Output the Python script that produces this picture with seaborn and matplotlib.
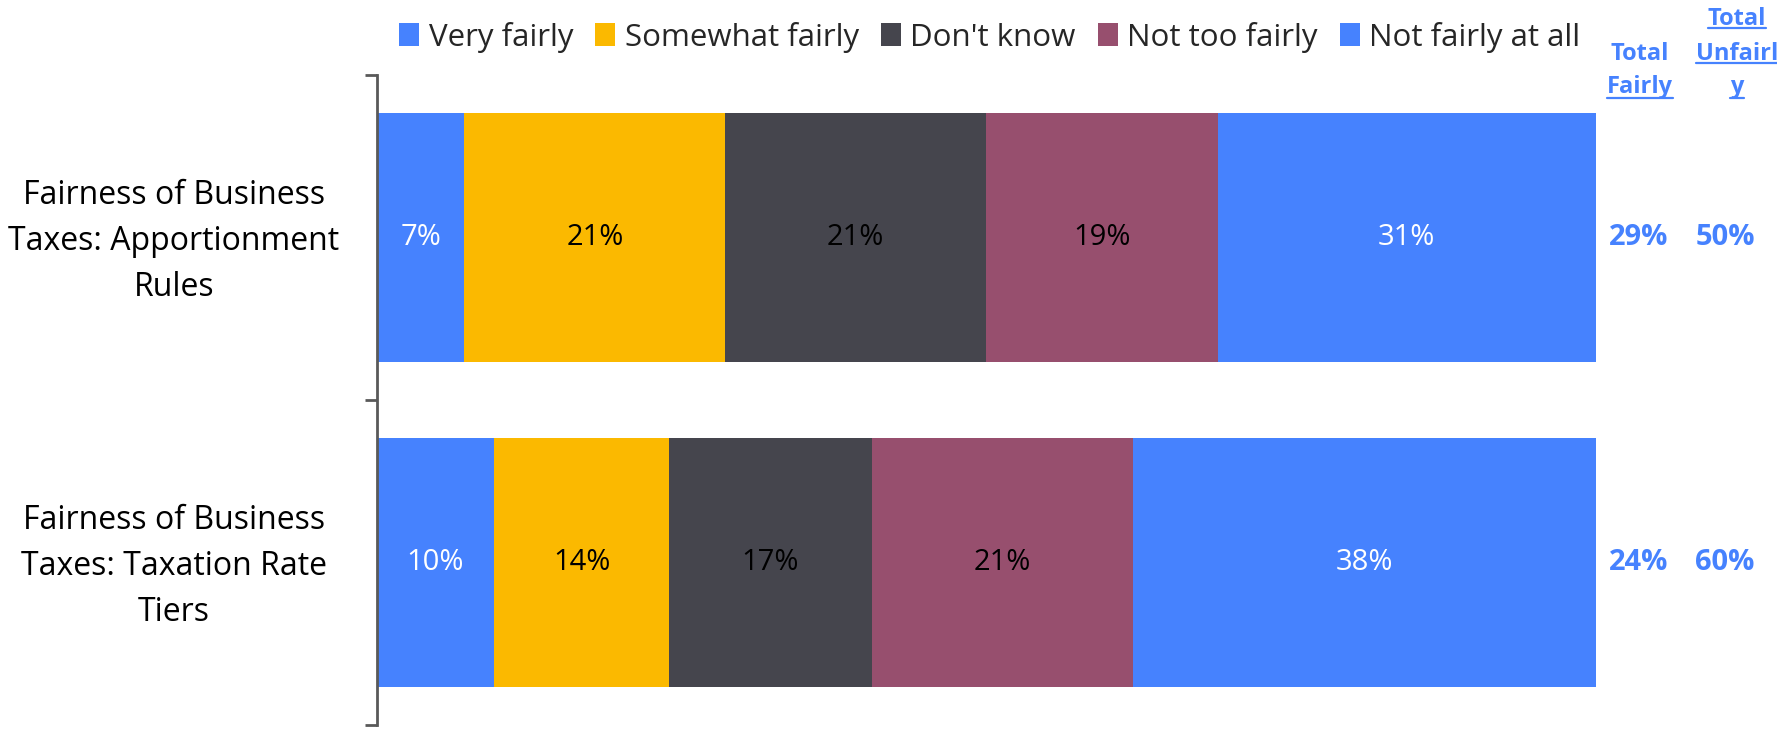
import seaborn as sns
import matplotlib.pyplot as plt
import pandas as pd

# Categories and response shares (percent)
categories = ["Fairness of Business\nTaxes: Apportionment\nRules",
              "Fairness of Business\nTaxes: Taxation Rate\nTiers"]
responses = ["Very fairly", "Somewhat fairly", "Don't know",
             "Not too fairly", "Not fairly at all"]
very_fairly = [7.2, 9.6]
somewhat_fairly = [21.4, 14.4]
dont_know = [21.4, 16.6]
not_too_fairly = [19.0, 21.4]
not_fairly_at_all = [31.0, 38.0]
total_fairly = ["29%", "24%"]
total_unfairly = ["50%", "60%"]

colors = ["#4682FE", "#FBB900", "#45454D", "#974F6E", "#4682FE"]
label_colors = ["white", "black", "black", "black", "white"]

series = [very_fairly, somewhat_fairly, dont_know, not_too_fairly, not_fairly_at_all]
df = pd.DataFrame(dict(zip(responses, series)), index=categories)
cum = df.cumsum(axis=1)

sns.set_style("white")
plt.rcParams["font.family"] = ["Open Sans", "DejaVu Sans"]

fig = plt.figure(figsize=(17.77, 7.29), dpi=100)
ax = fig.add_axes([0.212, 0.0055, 0.686, 0.8915])

# stacked bars: draw cumulative totals from last to first
for i in reversed(range(len(responses))):
    sns.barplot(x=cum[responses[i]].values, y=categories, orient="h",
                color=colors[i], width=0.768, ax=ax, saturation=1,
                edgecolor="none", label=responses[i])
handles, labels = ax.get_legend_handles_labels()
if ax.get_legend() is not None:
    ax.get_legend().remove()

# segment labels
for j, cat in enumerate(categories):
    left = 0
    for i, r in enumerate(responses):
        v = df.loc[cat, r]
        ax.text(left + v / 2, j, f"{round(v):.0f}%", ha="center", va="center",
                fontsize=21, color=label_colors[i])
        left += v

ax.set_xlim(0, cum.iloc[:, -1].max())
ax.set_ylim(1.5, -0.5)
ax.set_xticks([])
ax.set_yticks([0, 1])
ax.set_yticklabels([])
ax.tick_params(axis="y", which="major", length=0)
ax.set_yticks([-0.5, 0.5, 1.5], minor=True)
ax.tick_params(axis="y", which="minor", left=True, length=9, width=2,
               color="#595959", direction="out")
for s in ["top", "right", "bottom"]:
    ax.spines[s].set_visible(False)
ax.spines["left"].set_color("#595959")
ax.spines["left"].set_linewidth(2)
ax.set_xlabel("")
ax.set_ylabel("")

# category labels, centred lines
for j, cat in enumerate(categories):
    ax.text(-0.1665, j + 0.012, cat, transform=ax.get_yaxis_transform(),
            ha="center", va="center", multialignment="center",
            fontsize=23, linespacing=1.53, color="black")

# legend on top
order = [labels.index(r) for r in responses]
fig.legend([handles[k] for k in order], responses, loc="center",
           bbox_to_anchor=(0.557, 0.949), ncol=5, frameon=False,
           fontsize=22.5, handlelength=0.65, handleheight=0.75,
           handletextpad=0.3, columnspacing=0.7)

# totals columns
blue = "#4682FE"
header_lines = [  # text, x centre, baseline y, underline y or None
    ("Total", 0.923, 0.918, None),
    ("Fairly", 0.923, 0.872, 0.865),
    ("Total", 0.9775, 0.966, 0.961),
    ("Unfairl", 0.9775, 0.918, 0.913),
    ("y", 0.9775, 0.872, 0.865),
]
fig.canvas.draw()
renderer = fig.canvas.get_renderer()
for txt, x, y, uy in header_lines:
    t = fig.text(x, y, txt, ha="center", va="baseline", fontsize=17,
                 fontweight="bold", color=blue)
    if uy is not None:
        bb = t.get_window_extent(renderer).transformed(fig.transFigure.inverted())
        fig.lines.append(plt.Line2D([bb.x0, bb.x1], [uy, uy], color=blue,
                                    lw=1.6, transform=fig.transFigure))

for j in range(len(categories)):
    ax.text(1.0355, j, total_fairly[j], transform=ax.get_yaxis_transform(),
            ha="center", va="center", fontsize=21, fontweight="bold", color=blue)
    ax.text(1.106, j, total_unfairly[j], transform=ax.get_yaxis_transform(),
            ha="center", va="center", fontsize=21, fontweight="bold", color=blue)

fig.savefig("out.png", dpi=100)
